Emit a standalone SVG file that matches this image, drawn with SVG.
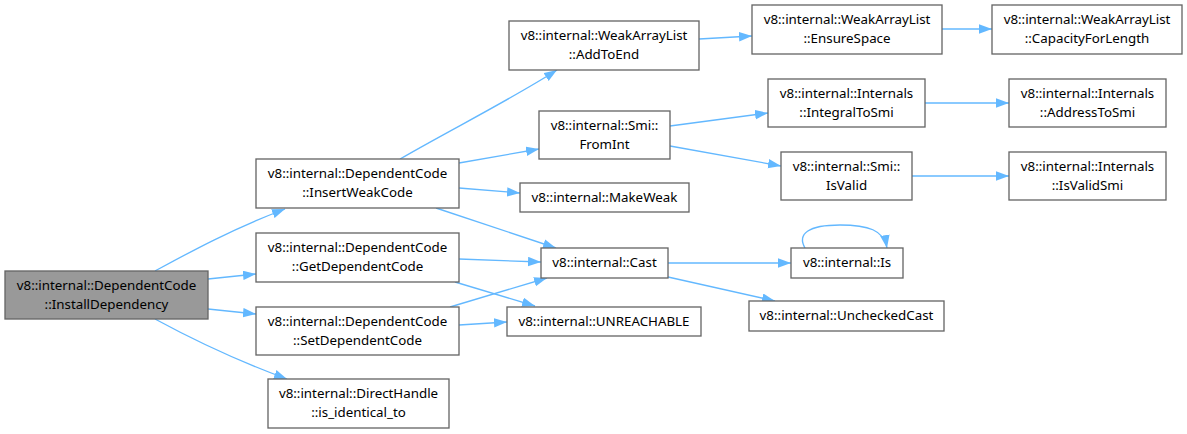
<svg xmlns="http://www.w3.org/2000/svg" width="1187" height="434" viewBox="0 0 1187 434">
<style>
.n rect{fill:#fff;stroke:#666;stroke-width:1.33}
.n.main rect{fill:#999}
text{font-family:"Noto Sans","DejaVu Sans",sans-serif;font-size:13.33px;fill:#000;text-anchor:middle}
#edges path{fill:none;stroke:#63b8ff;stroke-width:1.33;marker-end:url(#ah)}
</style>
<defs>
<marker id="ah" markerUnits="userSpaceOnUse" markerWidth="14" markerHeight="10" refX="13" refY="4.75" orient="auto">
<path d="M0,0 L13,4.75 L0,9.5 z" fill="#63b8ff"/>
</marker>
</defs>
<rect width="1187" height="434" fill="#fff"/>
<g id="edges">
<path d="M155,271 C190,252 230,230 285,209"/>
<path d="M208,279 L256,274"/>
<path d="M208,309 L256,314"/>
<path d="M155,319 C190,338 230,358 287,379"/>
<path d="M400,159 C450,130 510,100 557,70"/>
<path d="M459,163 L539,149"/>
<path d="M459,188 L520,193"/>
<path d="M436,208 L556,248"/>
<path d="M459,259 L541,262"/>
<path d="M455,282 L535,306"/>
<path d="M450,307 L547,278"/>
<path d="M459,325 L507,322"/>
<path d="M699,39 L752,36"/>
<path d="M942,29 L992,29"/>
<path d="M670,126 L768,113"/>
<path d="M670,146 L781,166"/>
<path d="M925,103 L1009,103"/>
<path d="M912,176 L1009,176"/>
<path d="M668,263 L791,263"/>
<path d="M668,277 L775,301"/>
<path d="M805,248 C797,234 808,225 840,225 C868,225 884,230 887,248"/>
</g>
<g id="n_install" class="n main"><rect x="5" y="271" width="203" height="48"/><text x="106.5" y="290">v8::internal::DependentCode</text><text x="106.5" y="309">::InstallDependency</text></g>
<g id="n_insertweak" class="n"><rect x="256" y="159" width="203" height="49"/><text x="357.5" y="178">v8::internal::DependentCode</text><text x="357.5" y="197">::InsertWeakCode</text></g>
<g id="n_getdep" class="n"><rect x="256" y="233" width="203" height="49"/><text x="357.5" y="252">v8::internal::DependentCode</text><text x="357.5" y="271">::GetDependentCode</text></g>
<g id="n_setdep" class="n"><rect x="256" y="307" width="203" height="48"/><text x="357.5" y="326">v8::internal::DependentCode</text><text x="357.5" y="345">::SetDependentCode</text></g>
<g id="n_direct" class="n"><rect x="268" y="379" width="181" height="49"/><text x="358.5" y="398">v8::internal::DirectHandle</text><text x="358.5" y="417">::is_identical_to</text></g>
<g id="n_addtoend" class="n"><rect x="509" y="21" width="190" height="49"/><text x="604" y="40">v8::internal::WeakArrayList</text><text x="604" y="59">::AddToEnd</text></g>
<g id="n_ensure" class="n"><rect x="752" y="5" width="190" height="49"/><text x="847" y="24">v8::internal::WeakArrayList</text><text x="847" y="43">::EnsureSpace</text></g>
<g id="n_capacity" class="n"><rect x="992" y="5" width="190" height="49"/><text x="1087" y="24">v8::internal::WeakArrayList</text><text x="1087" y="43">::CapacityForLength</text></g>
<g id="n_fromint" class="n"><rect x="539" y="111" width="131" height="48"/><text x="604.5" y="130">v8::internal::Smi::</text><text x="604.5" y="149">FromInt</text></g>
<g id="n_integral" class="n"><rect x="768" y="79" width="157" height="48"/><text x="846.5" y="98">v8::internal::Internals</text><text x="846.5" y="117">::IntegralToSmi</text></g>
<g id="n_address" class="n"><rect x="1009" y="79" width="157" height="48"/><text x="1087.5" y="98">v8::internal::Internals</text><text x="1087.5" y="117">::AddressToSmi</text></g>
<g id="n_isvalid" class="n"><rect x="781" y="152" width="131" height="48"/><text x="846.5" y="171">v8::internal::Smi::</text><text x="846.5" y="190">IsValid</text></g>
<g id="n_isvalidsmi" class="n"><rect x="1009" y="152" width="157" height="48"/><text x="1087.5" y="171">v8::internal::Internals</text><text x="1087.5" y="190">::IsValidSmi</text></g>
<g id="n_makeweak" class="n"><rect x="520" y="183" width="169" height="29"/><text x="604.5" y="202">v8::internal::MakeWeak</text></g>
<g id="n_cast" class="n"><rect x="541" y="248" width="127" height="30"/><text x="604.5" y="267">v8::internal::Cast</text></g>
<g id="n_is" class="n"><rect x="791" y="248" width="112" height="30"/><text x="847" y="267">v8::internal::Is</text></g>
<g id="n_unchecked" class="n"><rect x="749" y="301" width="195" height="30"/><text x="846.5" y="320">v8::internal::UncheckedCast</text></g>
<g id="n_unreachable" class="n"><rect x="507" y="307" width="194" height="29"/><text x="604" y="326">v8::internal::UNREACHABLE</text></g>
</svg>
